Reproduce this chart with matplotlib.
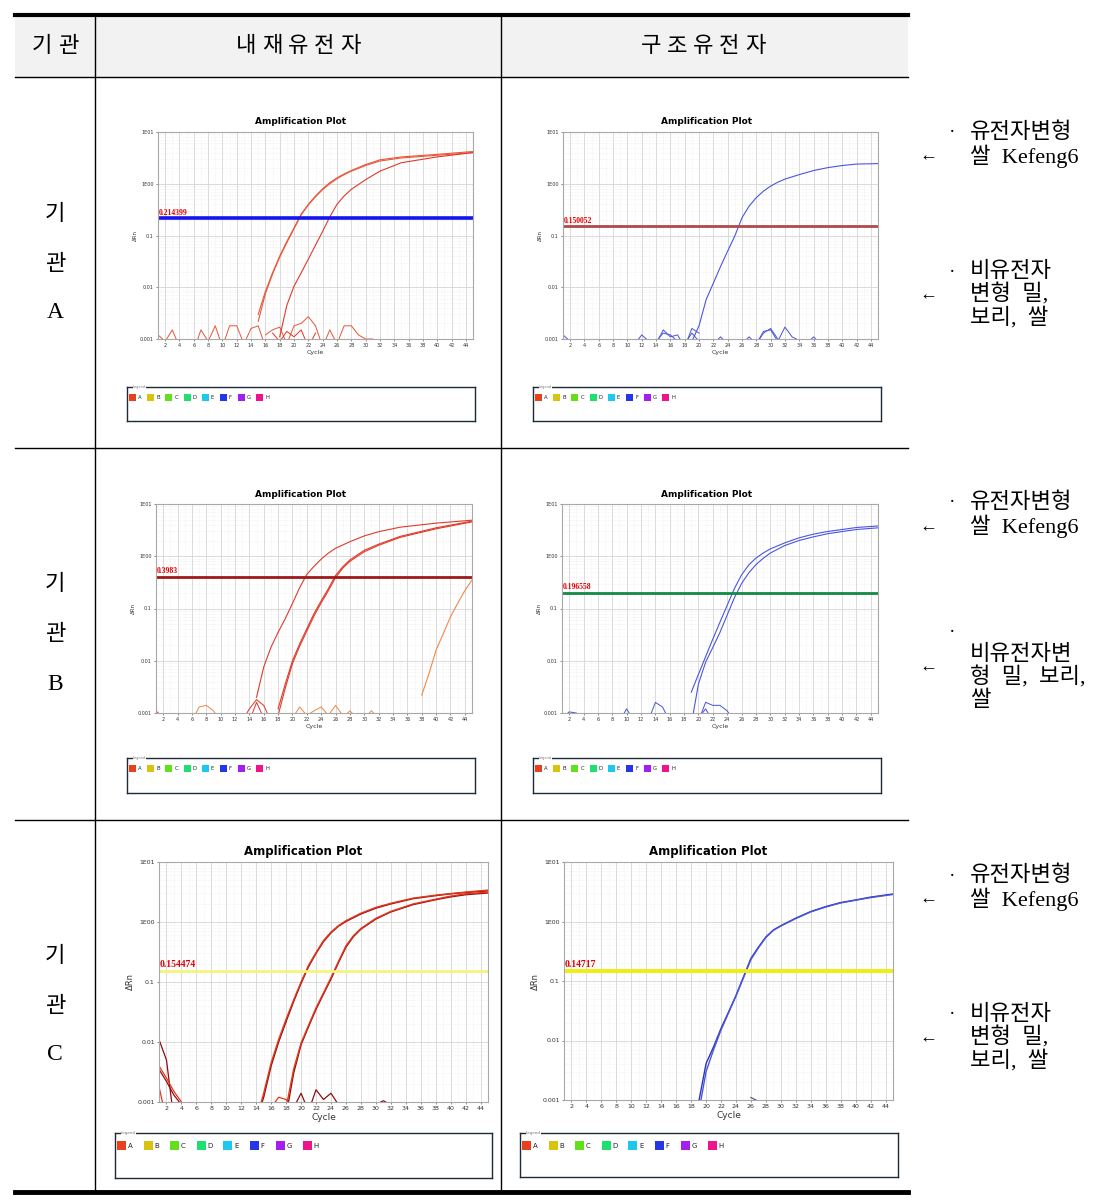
import matplotlib.pyplot as plt
from matplotlib.patches import Rectangle

W, H = 1105, 1201
KR = ['Noto Sans CJK KR', 'DejaVu Sans']
SERIF = ['Liberation Serif', 'Noto Sans CJK KR', 'DejaVu Sans']

# ---- 표 텍스트 ----
header = ['기관', '내재유전자', '구조유전자']
org_names = ['A', 'B', 'C']
thr_labels = ['0.214399', '0.150052', '0.3983', '0.196558', '0.154474', '0.14717']
thr_values = [0.214399, 0.150052, 0.3983, 0.196558, 0.154474, 0.14717]
legend_keys = ['A', 'B', 'C', 'D', 'E', 'F', 'G', 'H']
legend_colors = ['#e8401c', '#d8c410', '#62e01c', '#1ee070', '#1cc8ec', '#2436e8', '#a41ef0', '#f0148c']

# ---- 기관 A 내재유전자 ----
a_endo_1_x = [15, 16, 17, 18, 19, 20, 21, 22, 23, 24, 25, 26, 27, 28, 30, 32, 35, 40, 45]
a_endo_1_y = [0.003, 0.0083, 0.019, 0.04, 0.077, 0.14, 0.26, 0.4, 0.58, 0.8, 1.05, 1.3, 1.55, 1.8, 2.35, 2.9, 3.3, 3.7, 4.2]
a_endo_2_y = [0.0022, 0.0075, 0.018, 0.038, 0.073, 0.135, 0.25, 0.39, 0.56, 0.77, 1.0, 1.25, 1.5, 1.75, 2.25, 2.75, 3.15, 3.55, 4.0]
a_endo_3_x = [18, 19, 20, 21, 22, 23, 24, 25, 26, 27, 28, 30, 32, 35, 40, 45]
a_endo_3_y = [0.0011, 0.0045, 0.0105, 0.019, 0.035, 0.065, 0.12, 0.23, 0.4, 0.58, 0.78, 1.2, 1.75, 2.55, 3.3, 4.0]
a_endo_n1_x = [1, 2, 3, 4, 6, 7, 8, 9, 10, 11, 12, 13, 14, 15, 16]
a_endo_n1_y = [0.0012, 0.0009, 0.0015, 0.0007, 0.0006, 0.0015, 0.0009, 0.0018, 0.0007, 0.0018, 0.0018, 0.0008, 0.0016, 0.0018, 0.0007]
a_endo_n2_x = [16, 17, 18, 19, 20, 21, 22, 23, 24, 25, 26, 27, 28, 29, 30, 31]
a_endo_n2_y = [0.0012, 0.0015, 0.0017, 0.0008, 0.0018, 0.002, 0.0027, 0.0018, 0.0007, 0.0015, 0.0008, 0.0018, 0.0018, 0.0012, 0.001, 0.001]
a_endo_n3_x = [17, 18, 19, 20, 21, 22, 23]
a_endo_n3_y = [0.0013, 0.0009, 0.0014, 0.0011, 0.0015, 0.0007, 0.0013]

# ---- 기관 A 구조유전자 ----
a_str_1_x = [19, 20, 21, 22, 23, 24, 25, 26, 27, 28, 29, 30, 31, 32, 34, 36, 38, 40, 42, 45]
a_str_1_y = [0.0009, 0.0018, 0.0058, 0.012, 0.025, 0.05, 0.098, 0.22, 0.37, 0.54, 0.72, 0.9, 1.07, 1.23, 1.5, 1.8, 2.05, 2.25, 2.4, 2.45]
a_str_n1_x = [1, 2, 11, 12, 13, 14, 15, 16, 17, 18, 19, 20]
a_str_n1_y = [0.0012, 0.0009, 0.0008, 0.0012, 0.0009, 0.0008, 0.0015, 0.0011, 0.0012, 0.0007, 0.0016, 0.0013]
a_str_n2_x = [22, 23, 24, 26, 27, 28, 29, 30, 31, 32, 33, 35, 36, 37]
a_str_n2_y = [0.0008, 0.0011, 0.0008, 0.0008, 0.0011, 0.0008, 0.0014, 0.0015, 0.0009, 0.0017, 0.0011, 0.0008, 0.0011, 0.0008]
a_str_n3_x = [14, 15, 16, 17, 18, 19, 20]
a_str_n3_y = [0.0009, 0.0013, 0.0012, 0.0009, 0.0008, 0.0013, 0.0009]
a_str_n4_x = [28, 29, 30, 31, 32]
a_str_n4_y = [0.0008, 0.0013, 0.0016, 0.001, 0.0009]

# ---- 기관 B 내재유전자 ----
b_endo_1_x = [15, 16, 17, 18, 19, 20, 21, 22, 23, 24, 25, 26, 28, 30, 32, 35, 40, 45]
b_endo_1_y = [0.002, 0.0076, 0.018, 0.035, 0.064, 0.125, 0.25, 0.45, 0.64, 0.88, 1.15, 1.42, 1.9, 2.45, 2.95, 3.6, 4.3, 4.9]
b_endo_2_x = [18, 19, 20, 21, 22, 23, 24, 25, 26, 27, 28, 30, 32, 35, 40, 45]
b_endo_2_y = [0.0012, 0.0036, 0.010, 0.021, 0.041, 0.08, 0.14, 0.24, 0.43, 0.63, 0.85, 1.3, 1.7, 2.4, 3.5, 4.7]
b_endo_3_y = [0.0009, 0.003, 0.0088, 0.019, 0.037, 0.072, 0.128, 0.22, 0.39, 0.59, 0.8, 1.22, 1.62, 2.3, 3.35, 4.55]
b_endo_4_x = [38, 39, 40, 41, 42, 43, 44, 45]
b_endo_4_y = [0.0022, 0.0056, 0.016, 0.033, 0.069, 0.125, 0.22, 0.35]
b_endo_n1_x = [6, 7, 8, 9, 10]
b_endo_n1_y = [0.0007, 0.0013, 0.0014, 0.0011, 0.0007]
b_endo_n2_x = [13, 14, 15, 16, 17]
b_endo_n2_y = [0.0007, 0.0012, 0.0018, 0.0014, 0.0007]
b_endo_n3_x = [14, 15, 16]
b_endo_n3_y = [0.0007, 0.0016, 0.0008]
b_endo_n4_x = [20, 21, 22, 23, 24, 25, 26, 27]
b_endo_n4_y = [0.0008, 0.0013, 0.0009, 0.0011, 0.0013, 0.0009, 0.0014, 0.0009]
b_endo_n5_x = [27, 28, 29, 30, 31, 32]
b_endo_n5_y = [0.0008, 0.0011, 0.0008, 0.0008, 0.0011, 0.0008]
b_endo_n6_x = [1, 2]
b_endo_n6_y = [0.0011, 0.0008]

# ---- 기관 B 구조유전자 ----
b_str_1_x = [19, 20, 21, 22, 23, 24, 25, 26, 27, 28, 29, 30, 32, 34, 36, 38, 40, 42, 45]
b_str_1_y = [0.0025, 0.0055, 0.012, 0.026, 0.055, 0.115, 0.24, 0.44, 0.68, 0.92, 1.15, 1.38, 1.8, 2.25, 2.65, 2.98, 3.25, 3.55, 3.8]
b_str_2_y = [0.0006, 0.0036, 0.0094, 0.018, 0.035, 0.075, 0.16, 0.3, 0.48, 0.69, 0.91, 1.15, 1.6, 2.0, 2.35, 2.7, 2.97, 3.25, 3.5]
b_str_n1_x = [1, 2, 3]
b_str_n1_y = [0.0008, 0.00105, 0.001]
b_str_n2_x = [9, 10, 11]
b_str_n2_y = [0.0007, 0.0012, 0.0007]
b_str_n3_x = [13, 14, 15, 16]
b_str_n3_y = [0.0007, 0.0016, 0.0013, 0.0007]
b_str_n4_x = [20, 21, 22, 23, 24, 25]
b_str_n4_y = [0.0007, 0.0016, 0.0014, 0.0014, 0.0011, 0.0007]
b_str_n5_x = [20, 21, 22]
b_str_n5_y = [0.0008, 0.0012, 0.0007]

# ---- 기관 C 내재유전자 ----
c_endo_1_x = [14, 15, 16, 17, 18, 19, 20, 21, 22, 23, 24, 25, 26, 28, 30, 32, 35, 38, 40, 42, 45]
c_endo_1_y = [0.0005, 0.0014, 0.0045, 0.011, 0.024, 0.05, 0.1, 0.19, 0.31, 0.49, 0.68, 0.87, 1.05, 1.4, 1.75, 2.05, 2.5, 2.8, 2.97, 3.15, 3.4]
c_endo_2_y = [0.0005, 0.0012, 0.004, 0.01, 0.022, 0.047, 0.095, 0.18, 0.3, 0.47, 0.66, 0.85, 1.02, 1.36, 1.7, 2.0, 2.45, 2.75, 2.95, 3.1, 3.3]
c_endo_3_x = [18, 19, 20, 21, 22, 23, 24, 25, 26, 27, 28, 30, 32, 35, 38, 40, 42, 45]
c_endo_3_y = [0.0008, 0.0035, 0.0096, 0.019, 0.037, 0.066, 0.118, 0.22, 0.4, 0.59, 0.78, 1.15, 1.5, 2.0, 2.4, 2.7, 2.95, 3.15]
c_endo_4_y = [0.0006, 0.003, 0.009, 0.018, 0.035, 0.063, 0.112, 0.21, 0.38, 0.57, 0.76, 1.12, 1.47, 1.95, 2.35, 2.62, 2.85, 3.05]
c_endo_n1_x = [1, 2, 3]
c_endo_n1_y = [0.011, 0.005, 0.0005]
c_endo_n2_x = [1, 2, 3, 4]
c_endo_n2_y = [0.004, 0.0025, 0.0015, 0.001]
c_endo_n3_x = [1, 2, 3, 4]
c_endo_n3_y = [0.0035, 0.0022, 0.0013, 0.0009]
c_endo_n4_x = [1, 2]
c_endo_n4_y = [0.0018, 0.0005]
c_endo_n5_x = [16, 17, 18, 19]
c_endo_n5_y = [0.0008, 0.0012, 0.0011, 0.0008]
c_endo_n6_x = [19, 20, 21, 22, 23, 24, 25]
c_endo_n6_y = [0.0008, 0.0014, 0.0007, 0.0016, 0.0011, 0.0014, 0.0009]
c_endo_n7_x = [30, 31, 32]
c_endo_n7_y = [0.0009, 0.00105, 0.0009]

# ---- 기관 C 구조유전자 ----
c_str_1_x = [19, 20, 21, 22, 23, 24, 25, 26, 27, 28, 29, 30, 32, 34, 36, 38, 40, 42, 45]
c_str_1_y = [0.0009, 0.0041, 0.0078, 0.016, 0.03, 0.057, 0.117, 0.24, 0.37, 0.55, 0.72, 0.85, 1.14, 1.47, 1.78, 2.08, 2.3, 2.57, 2.9]
c_str_2_y = [0.0006, 0.003, 0.007, 0.015, 0.029, 0.056, 0.113, 0.23, 0.36, 0.54, 0.71, 0.84, 1.12, 1.45, 1.75, 2.05, 2.28, 2.52, 2.85]
c_str_n1_x = [26, 27]
c_str_n1_y = [0.0011, 0.00095]

RED, RED2, ORG = '#e8583c', '#e03a2a', '#f0884a'
BLUE, BLUE2 = '#4a55e0', '#2a36b0'
CRED, DRED = '#e8341a', '#8a1010'

panels = [
    dict(box=(158, 132, 473, 339), title=(301, 122), legend=(127, 387, 475, 421), big=False,
         thr_color='#1414f0', thr_lw=2.6,
         curves=[(a_endo_1_x, a_endo_1_y, RED), (a_endo_1_x, a_endo_2_y, RED), (a_endo_3_x, a_endo_3_y, RED2)],
         noise=[(a_endo_n1_x, a_endo_n1_y, RED), (a_endo_n2_x, a_endo_n2_y, RED), (a_endo_n3_x, a_endo_n3_y, RED2)]),
    dict(box=(563, 132, 878, 339), title=(707, 122), legend=(533, 387, 881, 421), big=False,
         thr_color='#b04a4a', thr_lw=2.0,
         curves=[(a_str_1_x, a_str_1_y, BLUE)],
         noise=[(a_str_n1_x, a_str_n1_y, BLUE), (a_str_n2_x, a_str_n2_y, BLUE),
                (a_str_n3_x, a_str_n3_y, BLUE), (a_str_n4_x, a_str_n4_y, BLUE)]),
    dict(box=(156, 504, 472, 713), title=(301, 495), legend=(127, 758, 475, 793), big=False,
         thr_color='#a01818', thr_lw=2.0,
         curves=[(b_endo_1_x, b_endo_1_y, RED2), (b_endo_2_x, b_endo_2_y, RED2), (b_endo_2_x, b_endo_3_y, RED2),
                 (b_endo_4_x, b_endo_4_y, ORG)],
         noise=[(b_endo_n1_x, b_endo_n1_y, ORG), (b_endo_n2_x, b_endo_n2_y, RED2), (b_endo_n3_x, b_endo_n3_y, RED2),
                (b_endo_n4_x, b_endo_n4_y, ORG), (b_endo_n5_x, b_endo_n5_y, ORG), (b_endo_n6_x, b_endo_n6_y, RED2)]),
    dict(box=(562, 504, 878, 713), title=(707, 495), legend=(533, 758, 881, 793), big=False,
         thr_color='#128a44', thr_lw=2.0,
         curves=[(b_str_1_x, b_str_1_y, BLUE), (b_str_1_x, b_str_2_y, BLUE)],
         noise=[(b_str_n1_x, b_str_n1_y, BLUE), (b_str_n2_x, b_str_n2_y, BLUE), (b_str_n3_x, b_str_n3_y, BLUE),
                (b_str_n4_x, b_str_n4_y, BLUE), (b_str_n5_x, b_str_n5_y, BLUE)]),
    dict(box=(159, 862, 488, 1102), title=(303, 852), legend=(115, 1133, 492, 1178), big=True,
         thr_color='#f4f47a', thr_lw=2.0,
         curves=[(c_endo_1_x, c_endo_2_y, DRED), (c_endo_1_x, c_endo_1_y, CRED),
                 (c_endo_3_x, c_endo_4_y, DRED), (c_endo_3_x, c_endo_3_y, CRED)],
         noise=[(c_endo_n1_x, c_endo_n1_y, DRED), (c_endo_n2_x, c_endo_n2_y, CRED),
                (c_endo_n3_x, c_endo_n3_y, DRED), (c_endo_n4_x, c_endo_n4_y, CRED),
                (c_endo_n5_x, c_endo_n5_y, CRED), (c_endo_n6_x, c_endo_n6_y, DRED),
                (c_endo_n7_x, c_endo_n7_y, DRED)]),
    dict(box=(564, 862, 893, 1100), title=(708, 851), legend=(520, 1133, 898, 1177), big=True,
         thr_color='#eeee10', thr_lw=2.8,
         curves=[(c_str_1_x, c_str_1_y, BLUE2), (c_str_1_x, c_str_2_y, BLUE)],
         noise=[(c_str_n1_x, c_str_n1_y, '#6a4a9a')]),
]

fig = plt.figure(figsize=(W / 100, H / 100), dpi=100)

# 표 틀 (픽셀 좌표)
base = fig.add_axes([0, 0, 1, 1])
base.set_xlim(0, W)
base.set_ylim(H, 0)
base.axis('off')
base.add_patch(Rectangle((15, 15), 893, 62, facecolor='#f2f2f2', edgecolor='none'))
base.plot([15, 908], [15, 15], color='black', lw=3)
base.plot([15, 908], [77, 77], color='black', lw=1)
base.plot([15, 908], [448, 448], color='black', lw=1)
base.plot([15, 908], [820, 820], color='black', lw=1)
base.plot([15, 908], [1192, 1192], color='black', lw=3.5)
base.plot([95, 95], [15, 1192], color='black', lw=1)
base.plot([501, 501], [15, 1192], color='black', lw=1)


def spaced(cx, cy, s, pitch, **kw):
    # 글자 사이를 벌려서 한 글자씩 배치
    start = cx - pitch * (len(s) - 1) / 2
    for k, ch in enumerate(s):
        base.text(start + k * pitch, cy, ch, ha='center', va='center', **kw)


spaced(55, 46, header[0], 26, fontsize=16, family=KR)
spaced(298, 46, header[1], 26, fontsize=16, family=KR)
spaced(703, 46, header[2], 26, fontsize=16, family=KR)

for i, yc in enumerate([263, 634, 1005]):
    base.text(55, yc - 50, '기', fontsize=16, family=KR, ha='center', va='center')
    base.text(55, yc, '관', fontsize=16, family=KR, ha='center', va='center')
    base.text(55, yc + 50, org_names[i], fontsize=17, family=SERIF, ha='center', va='center')

# 오른쪽 설명
notes = [
    (133, ['유전자변형', '쌀  Kefeng6'], 156, 272, ['비유전자', '변형  밀,', '보리,  쌀'], 295, 272),
    (503, ['유전자변형', '쌀  Kefeng6'], 527, 632, ['비유전자변', '형  밀,  보리,', '쌀'], 667, 655),
    (876, ['유전자변형', '쌀  Kefeng6'], 899, 1015, ['비유전자', '변형  밀,', '보리,  쌀'], 1038, 1015),
]
for y1, t1, ar1, dot2, t2, ar2, y2 in notes:
    base.text(952, y1, '·', fontsize=14, family=SERIF, ha='center', va='center')
    for k, s in enumerate(t1):
        base.text(970, y1 + 23 * k, s, fontsize=16, family=SERIF, ha='left', va='center')
    base.text(928, ar1, '←', fontsize=13, family=SERIF, ha='center', va='center')
    base.text(952, dot2, '·', fontsize=14, family=SERIF, ha='center', va='center')
    for k, s in enumerate(t2):
        base.text(970, y2 + 23 * k, s, fontsize=16, family=SERIF, ha='left', va='center')
    base.text(928, ar2, '←', fontsize=13, family=SERIF, ha='center', va='center')


def fig_box(x0, y0, x1, y1):
    return [x0 / W, 1 - y1 / H, (x1 - x0) / W, (y1 - y0) / H]


for p, lab, thr in zip(panels, thr_labels, thr_values):
    big = p['big']
    ax = fig.add_axes(fig_box(*p['box']))
    ax.set_yscale('log')
    ax.set_xlim(1, 45)
    ax.set_ylim(0.001, 10)
    lw = 1.0 if big else 0.8
    for xs, ys, c in p['noise']:
        ax.plot(xs, ys, color=c, lw=lw * 0.9)
    for xs, ys, c in p['curves']:
        ax.plot(xs, ys, color=c, lw=lw)
    ax.axhline(thr, color=p['thr_color'], lw=p['thr_lw'])
    ax.annotate(lab, xy=(0, thr), xycoords=('axes fraction', 'data'), xytext=(0.5, 1.2),
                textcoords='offset points', fontsize=7 if big else 5.5, color='#e00000',
                family='Liberation Serif', fontweight='bold', va='bottom', ha='left')

    ax.set_xticks(range(2, 45, 2))
    ax.set_xticks(range(1, 46), minor=True)
    ax.set_yticks([0.001, 0.01, 0.1, 1, 10])
    ax.set_yticklabels(['0.001', '0.01', '0.1', '1E00', '1E01'])
    ax.grid(True, which='major', color='#d4d4d4', lw=0.6, ls='-')
    ax.grid(True, which='minor', color='#e4e4e4', lw=0.4, ls=':')
    fs = 4.5 if big else 3.5
    ax.tick_params(labelsize=fs, length=1.5, width=0.4, pad=1.5, colors='#333333')
    ax.tick_params(which='minor', length=0)
    ax.set_xlabel('Cycle', fontsize=6.5 if big else 4.5, labelpad=1.5, color='#333333')
    ax.set_ylabel('ΔRn', fontsize=6 if big else 4, labelpad=2 if big else 1.5, color='#333333')
    for s in ax.spines.values():
        s.set_color('#a8a8a8')
        s.set_linewidth(0.8)

    tx, ty = p['title']
    fig.text(tx / W, 1 - ty / H, 'Amplification Plot', fontsize=8.5 if big else 6.5,
             fontweight='bold', ha='center', va='center')

    # 범례 상자
    lx0, ly0, lx1, ly1 = p['legend']
    lg = fig.add_axes(fig_box(lx0, ly0, lx1, ly1))
    lg.set_xlim(0, lx1 - lx0)
    lg.set_ylim(ly1 - ly0, 0)
    lg.set_xticks([])
    lg.set_yticks([])
    for s in lg.spines.values():
        s.set_color('#1e2a36')
        s.set_linewidth(1.0)
    sq = 9 if big else 7
    step = 26.5 if big else 18.2
    top = 8 if big else 7
    for k, (key, col) in enumerate(zip(legend_keys, legend_colors)):
        lg.add_patch(Rectangle((2 + k * step, top), sq, sq, facecolor=col, edgecolor='none'))
        lg.text(2 + k * step + sq + 2, top + sq / 2, key, fontsize=5 if big else 3.8,
                ha='left', va='center', color='#222222')
    lg.text(6, 0, 'Legend', fontsize=3 if big else 2.5, color='#777777', ha='left', va='center',
            bbox=dict(facecolor='white', edgecolor='none', pad=0.3))

fig.savefig('out.png', dpi=100)
